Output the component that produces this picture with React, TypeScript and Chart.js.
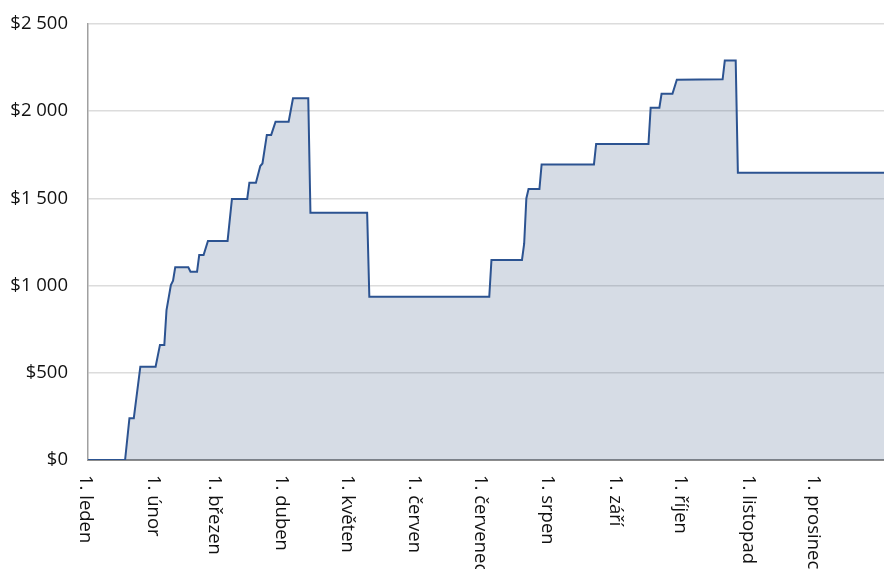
import React, { useEffect, useRef } from "react";
import { Chart, registerables } from "chart.js";

Chart.register(...registerables);

// Day of year (0 = 1. leden) and cumulative value
const days = [
  0, 17, 19, 21, 24, 31, 33, 35, 36, 38, 39, 40, 46, 47, 50, 51, 53, 55, 64, 66,
  73, 74, 77, 79, 80, 82, 84, 86, 92, 94, 101, 102, 128, 129, 184, 185, 199, 200, 201,
  202, 207, 208, 232, 233, 257, 258, 262, 263, 268, 270, 291, 292, 297, 298, 365,
];
const values = [
  0, 0, 240, 240, 535, 535, 660, 660, 860, 1003, 1028, 1105, 1105, 1080, 1080, 1175,
  1175, 1256, 1256, 1497, 1497, 1590, 1590, 1686, 1700, 1864, 1864, 1940, 1940, 2074,
  2074, 1418, 1418, 936, 936, 1147, 1147, 1240, 1500, 1554, 1554, 1695, 1695, 1812,
  1812, 2020, 2020, 2100, 2100, 2180, 2183, 2290, 2290, 1647, 1647,
];

const monthStartDays = [0, 31, 59, 90, 120, 151, 181, 212, 243, 273, 304, 334];
const monthLabels = [
  "1. leden",
  "1. únor",
  "1. březen",
  "1. duben",
  "1. květen",
  "1. červen",
  "1. červenec",
  "1. srpen",
  "1. září",
  "1. říjen",
  "1. listopad",
  "1. prosinec",
];
const yTicks = [0, 500, 1000, 1500, 2000, 2500];

const FONT_FAMILY = '"Open Sans", sans-serif';
const FONT_SIZE = 18.5;

function formatMoney(v: number): string {
  if (v >= 1000) {
    const th = Math.floor(v / 1000);
    const rest = String(v % 1000).padStart(3, "0");
    return "$" + th + " " + rest;
  }
  return "$" + v;
}

const xLabelPlugin = {
  id: "xLabelPlugin",
  afterDraw(chart: any) {
    const ctx = chart.ctx;
    const xs = chart.scales.x;
    const bottom = chart.chartArea.bottom;
    ctx.save();
    ctx.fillStyle = "#111111";
    ctx.font = `${FONT_SIZE}px ${FONT_FAMILY}`;
    ctx.textAlign = "left";
    ctx.textBaseline = "alphabetic";
    monthStartDays.forEach((d, i) => {
      const px = xs.getPixelForValue(d);
      ctx.save();
      ctx.translate(px - 8, bottom + 15);
      ctx.rotate(Math.PI / 2);
      ctx.fillText(monthLabels[i], 0, 0);
      ctx.restore();
    });
    ctx.restore();
  },
};

export default function App() {
  const canvasRef = useRef<HTMLCanvasElement | null>(null);

  useEffect(() => {
    if (!canvasRef.current) return;
    const points = days.map((d, i) => ({ x: d, y: values[i] }));
    const chart = new Chart(canvasRef.current, {
      type: "line",
      data: {
        datasets: [
          {
            data: points,
            borderColor: "#2C5391",
            borderWidth: 2,
            backgroundColor: "rgba(50,80,125,0.2)",
            fill: "origin",
            pointRadius: 0,
            tension: 0,
          },
        ],
      },
      options: {
        animation: false,
        responsive: false,
        layout: { padding: { top: 24, right: 0, left: 0, bottom: 0 } },
        plugins: {
          legend: { display: false },
          tooltip: { enabled: false },
        },
        scales: {
          x: {
            type: "linear",
            min: 0,
            max: 365,
            grid: { display: false },
            border: { display: true, color: "#8C8C8C", width: 2 },
            ticks: { display: false },
            afterBuildTicks: (scale: any) => {
              scale.ticks = monthStartDays.map((v) => ({ value: v }));
            },
            afterFit: (scale: any) => {
              scale.height = 109;
              scale.paddingLeft = 0;
              scale.paddingRight = 0;
            },
          },
          y: {
            type: "linear",
            min: 0,
            max: 2500,
            afterBuildTicks: (scale: any) => {
              scale.ticks = yTicks.map((v) => ({ value: v }));
            },
            grid: { color: "#DCDCDC", lineWidth: 1.5, drawTicks: false },
            border: { display: true, color: "#A0A0A0", width: 1.5 },
            ticks: {
              padding: 20,
              color: "#111111",
              font: { family: FONT_FAMILY, size: FONT_SIZE },
              callback: (v: any) => formatMoney(Number(v)),
            },
            afterFit: (scale: any) => {
              scale.width = 88;
              scale.paddingTop = 0;
              scale.paddingBottom = 0;
            },
          },
        },
      },
      plugins: [xLabelPlugin],
    });
    return () => chart.destroy();
  }, []);

  return (
    <div style={{ position: "fixed", left: 0, top: 0, width: 884, height: 569, background: "#fff" }}>
      <canvas ref={canvasRef} width={884} height={569} />
    </div>
  );
}
